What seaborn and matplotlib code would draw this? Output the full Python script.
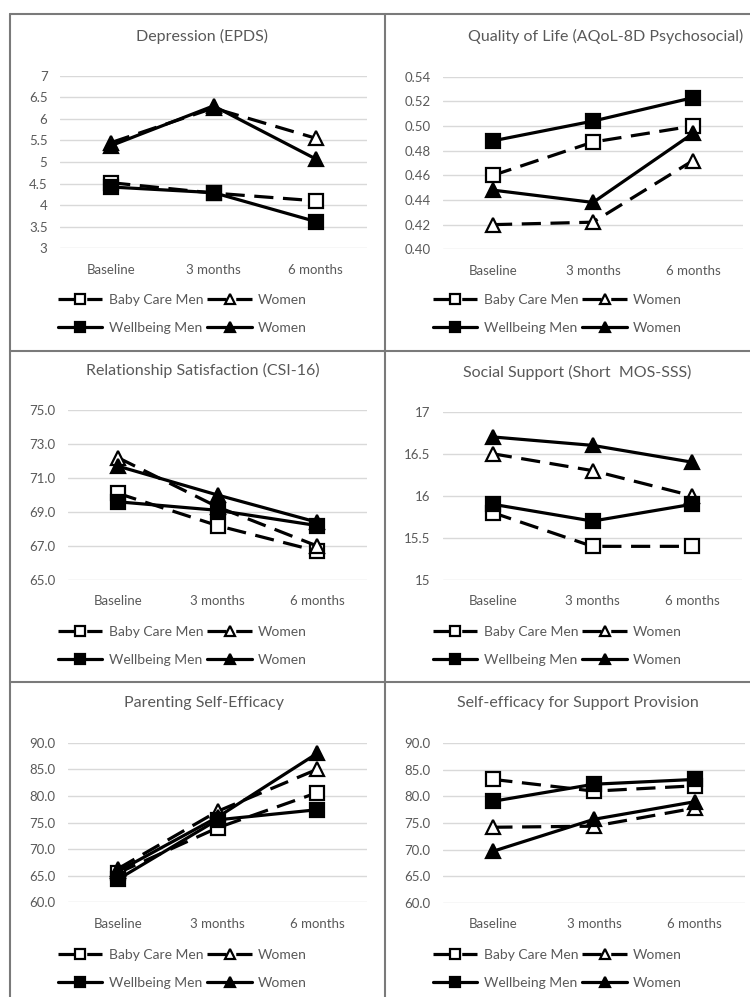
"""Six small line charts: Baby Care vs Wellbeing arms, men and women, three timepoints."""
import matplotlib as mpl
import matplotlib.pyplot as plt
import seaborn as sns
import numpy as np
import pandas as pd
from matplotlib.lines import Line2D
from matplotlib.ticker import FuncFormatter

# data
timepoints = ["Baseline", "3 months", "6 months"]

epds_bc_men = [4.52, 4.28, 4.10]
epds_bc_women = [5.45, 6.25, 5.55]
epds_wb_men = [4.42, 4.29, 3.62]
epds_wb_women = [5.38, 6.30, 5.07]

aqol_bc_men = [0.460, 0.487, 0.500]
aqol_bc_women = [0.420, 0.422, 0.472]
aqol_wb_men = [0.488, 0.504, 0.523]
aqol_wb_women = [0.448, 0.438, 0.494]

csi_bc_men = [70.1, 68.2, 66.7]
csi_bc_women = [72.2, 69.3, 67.0]
csi_wb_men = [69.6, 69.1, 68.2]
csi_wb_women = [71.7, 70.0, 68.4]

mos_bc_men = [15.8, 15.4, 15.4]
mos_bc_women = [16.5, 16.3, 16.0]
mos_wb_men = [15.9, 15.7, 15.9]
mos_wb_women = [16.7, 16.6, 16.4]

pse_bc_men = [65.5, 74.0, 80.6]
pse_bc_women = [66.3, 77.1, 85.0]
pse_wb_men = [64.3, 75.5, 77.4]
pse_wb_women = [65.8, 76.0, 88.0]

sesp_bc_men = [83.2, 81.0, 82.0]
sesp_bc_women = [74.2, 74.4, 77.8]
sesp_wb_men = [79.1, 82.3, 83.2]
sesp_wb_women = [69.7, 75.7, 79.0]

titles = ["Depression (EPDS)", "Quality of Life (AQoL-8D Psychosocial)",
          "Relationship Satisfaction (CSI-16)", "Social Support (Short  MOS-SSS)",
          "Parenting Self-Efficacy", "Self-efficacy for Support Provision"]
panel_data = [
    (epds_bc_men, epds_bc_women, epds_wb_men, epds_wb_women),
    (aqol_bc_men, aqol_bc_women, aqol_wb_men, aqol_wb_women),
    (csi_bc_men, csi_bc_women, csi_wb_men, csi_wb_women),
    (mos_bc_men, mos_bc_women, mos_wb_men, mos_wb_women),
    (pse_bc_men, pse_bc_women, pse_wb_men, pse_wb_women),
    (sesp_bc_men, sesp_bc_women, sesp_wb_men, sesp_wb_women),
]
y_ranges = [(3, 7, 0.5), (0.40, 0.54, 0.02), (65, 75, 2), (15, 17, 0.5), (60, 90, 5), (60, 90, 5)]
y_formats = ["{:g}", "{:.2f}", "{:.1f}", "{:g}", "{:.1f}", "{:.1f}"]

series_labels = ["Baby Care Men", "Women", "Wellbeing Men", "Women"]
series_markers = ["s", "^", "s", "^"]
series_faces = ["white", "white", "black", "black"]
series_dashed = [True, True, False, False]

sns.set_style("white")
plt.rcParams["font.family"] = ["Lato", "DejaVu Sans"]
TXT = "#595959"

W, H = 750, 997
fig = plt.figure(figsize=(W / 100, H / 100), dpi=100)

# plot areas in pixels: x0, x1, ytop, ybottom
boxes = [(60, 367, 75.7, 248.3), (443, 743, 76.7, 249.3),
         (68, 367, 410, 580), (443, 742, 411.7, 580),
         (68, 367, 742.7, 902.3), (443, 745, 743.3, 902.7)]
title_pos = [(202, 36), (606, 36), (202.5, 370), (577, 372), (203.5, 703), (577.5, 703)]
legend_pos = [(58, 314), (433, 314), (58, 646), (433, 646), (58, 969), (433, 969)]


def px(x0, x1, yt, yb):
    return [x0 / W, 1 - yb / H, (x1 - x0) / W, (yb - yt) / H]


for i in range(6):
    ax = fig.add_axes(px(*boxes[i]))
    for j, vals in enumerate(panel_data[i]):
        df = pd.DataFrame({"time": timepoints, "value": vals})
        sns.lineplot(data=df, x="time", y="value", ax=ax, sort=False,
                     color="black", lw=2.3,
                     linestyle=(0, (6, 3)) if series_dashed[j] else "-",
                     marker=series_markers[j], markersize=9.5 if series_markers[j] == "s" else 10.5,
                     markerfacecolor=series_faces[j], markeredgecolor="black",
                     markeredgewidth=1.6, label=series_labels[j], zorder=3 + j)
    lo, hi, step = y_ranges[i]
    ticks = np.arange(lo, hi + step / 2, step)
    ax.set_ylim(lo, hi)
    ax.set_yticks(ticks)
    fmt = y_formats[i]
    ax.yaxis.set_major_formatter(FuncFormatter(lambda v, p, f=fmt: f.format(v)))
    ax.set_xlim(-0.5, 2.5)
    ax.grid(axis="y", color="#d9d9d9", lw=1.0, zorder=0)
    ax.grid(axis="x", visible=False)
    for s in ax.spines.values():
        s.set_visible(False)
    ax.tick_params(length=0, labelsize=9.5, colors=TXT)
    ax.tick_params(axis="y", pad=9)
    ax.tick_params(axis="x", pad=11)
    ax.set_xlabel("")
    ax.set_ylabel("")
    fig.text(title_pos[i][0] / W, 1 - title_pos[i][1] / H, titles[i],
             ha="center", va="center", fontsize=11.5, color=TXT)

    handles, labels = ax.get_legend_handles_labels()
    # column order: BC men / WB men, then the two women entries
    order = [0, 2, 1, 3]
    leg = ax.legend([handles[k] for k in order], [labels[k] for k in order],
                    ncol=2, loc="center left", frameon=False, fontsize=10,
                    bbox_to_anchor=(legend_pos[i][0] / W, 1 - legend_pos[i][1] / H),
                    bbox_transform=fig.transFigure, borderpad=0, borderaxespad=0,
                    handlelength=3.2, handletextpad=0.45, columnspacing=0.3,
                    labelspacing=1.15, markerscale=0.72)
    for t in leg.get_texts():
        t.set_color(TXT)

# chart area borders
bc = "#7a7a7a"
fig.add_artist(Line2D([10 / W, 1], [1 - 14 / H] * 2, color=bc, lw=1.5, transform=fig.transFigure))
fig.add_artist(Line2D([10 / W, 1], [1 - 351 / H] * 2, color=bc, lw=1.5, transform=fig.transFigure))
fig.add_artist(Line2D([10 / W, 1], [1 - 682 / H] * 2, color=bc, lw=1.5, transform=fig.transFigure))
fig.add_artist(Line2D([10 / W] * 2, [0, 1 - 14 / H], color=bc, lw=1.5, transform=fig.transFigure))
fig.add_artist(Line2D([385 / W] * 2, [0, 1 - 14 / H], color=bc, lw=1.5, transform=fig.transFigure))

plt.savefig("out.png", dpi=100)
